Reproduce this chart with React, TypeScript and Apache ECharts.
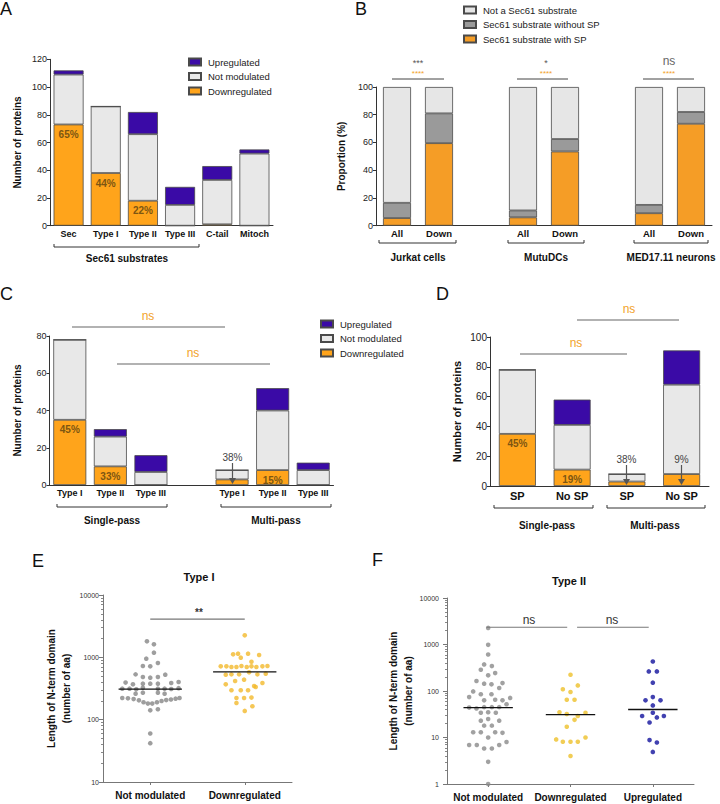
import React, { useEffect, useRef } from "react";
import * as echarts from "echarts";

const FONT = '"Liberation Sans", Arial, Helvetica, sans-serif';

// ---------- Panel A ----------
const catsA = ["Sec", "Type I", "Type II", "Type III", "C-tail", "Mitoch"];
const downA = [73, 38, 18, 0, 1, 0];
const notA = [36, 48, 48, 15, 32, 52];
const upA = [3, 0, 16, 13, 10, 3];
const pctA = ["65%", "44%", "22%", "", "", ""];
const ticksA = [0, 120, 20];

// ---------- Panel B ----------
const catsB = ["All", "Down", "", "All", "Down", "", "All", "Down"];
const withSpB = [5.5, 59.5, null, 6, 53.5, null, 9, 73.5];
const withoutSpB = [11, 21.5, null, 5, 9, null, 6, 8.5];
const notSecB = [83.5, 19, null, 89, 37.5, null, 85, 18];
const ticksB = [0, 100, 20];

// ---------- Panel C ----------
const catsC = ["Type I", "Type II", "Type III", "", "Type I", "Type II", "Type III"];
const downC = [35, 10, 0, null, 3, 8, 0];
const notC = [43, 16, 7, null, 5, 32, 8];
const upC = [0, 4, 9, null, 0, 12, 4];
const pctC = ["45%", "33%", "", "", "", "15%", ""];
const ticksC = [0, 80, 20];

// ---------- Panel D ----------
const catsD = ["SP", "No SP", "SP", "No SP"];
const downD = [35, 11, 3, 8];
const notD = [43, 30, 5, 60];
const upD = [0, 17, 0, 23];
const pctD = ["45%", "19%", "", ""];
const ticksD = [0, 100, 20];

// ---------- Panel E (Type I) ----------
const catsE = ["Not modulated", "Downregulated"];
const eNotOff = [-0.035, 0.039, 0.039, -0.042, -0.078, 0, 0.081, -0.155, -0.078, 0, 0.081, 0.159,
  -0.261, -0.183, -0.078, 0, 0.081, 0.222, 0.3,
  -0.296, -0.219, -0.148, -0.078, 0.081, 0.152, 0.222, 0.3,
  -0.155, -0.078, 0.081, 0.152,
  -0.296, -0.236, -0.176, -0.12, -0.071, -0.025, 0.021, 0.071, 0.12, 0.169, 0.219, 0.268, 0.31,
  0, 0.081, 0, 0];
const eNotVal = [1807, 1617, 1188, 952, 726, 718, 812, 533, 483, 472, 483, 527,
  393, 369, 378, 378, 378, 387, 402,
  314, 314, 307, 325, 314, 314, 310, 320,
  261, 271, 271, 261,
  223, 220, 214, 204, 190, 181, 181, 190, 199, 206, 211, 217, 223,
  141, 147, 60, 42];
const eDownOff = [0, -0.123, -0.071, 0.035, 0.152, -0.042, 0.071,
  -0.254, -0.194, -0.141, -0.088, -0.035, 0.021, 0.071, 0.123, 0.187, 0.24,
  -0.201, -0.141, -0.06, 0.046, 0.134, 0.222,
  -0.201, -0.102, -0.007, 0.099, 0.187,
  -0.141, -0.042, 0.035, 0.116,
  -0.088, -0.007, 0.071,
  -0.088, 0.081, 0];
const eDownVal = [2254, 1117, 1146, 1146, 1089, 988, 851,
  718, 718, 700, 700, 727, 700, 718, 700, 718, 727,
  527, 533, 533, 574, 533, 547,
  369, 417, 438, 347, 387,
  296, 296, 296, 334,
  223, 223, 226,
  185, 164, 138];
const medE = [310, 583];
const sigE = { from: 1, to: 2, y: 4100 };

// ---------- Panel F (Type II) ----------
const catsF = ["Not modulated", "Downregulated", "Upregulated"];
const fNotOff = [0, 0, 0, -0.049, 0.045, -0.089, 0.085, 0, -0.142, -0.049, 0.04, 0.174, 0.134, -0.182, -0.231, -0.089, 0.04, -0.049, 0.085, 0.174, 0.267, 0.223, -0.231, -0.142, -0.049, 0.045, 0.134, -0.089, 0, 0.093, 0, -0.089, 0.134, -0.049, 0.045, -0.182, -0.089, 0.085, 0.174, 0, -0.231, -0.138, -0.049, 0.045, 0.134, 0.223, 0, 0];
const fNotVal = [2275, 984, 611, 373, 343, 287, 243, 217, 164, 144, 139, 148, 116, 98, 74, 85, 85, 63, 65, 63, 71, 52, 44, 42, 45, 45, 45, 34, 35, 34, 25, 23, 23, 18, 18, 13, 13, 13, 12.6, 10, 6.9, 6.9, 5.8, 5.8, 6.9, 8, 3, 1];
const fDownOff = [0, 0.089, -0.093, 0, -0.045, 0.049, -0.134, -0.045, 0.089, 0.182, 0.049, -0.045, -0.174, -0.093, 0, 0.089, 0.182, 0];
const fDownVal = [224, 132, 109, 95, 65, 65, 35, 32, 29, 34, 24, 17, 9.1, 8.1, 8.1, 8.1, 10, 4];
const fUpOff = [0, -0.049, 0.049, 0, 0, -0.089, 0.093, 0, 0, -0.13, 0.049, 0.134, -0.04, -0.04, 0.049, 0];
const fUpVal = [432, 264, 264, 151, 74, 63, 63, 49, 34, 29, 27, 29, 21, 8.8, 7.8, 4.9];
const medF = [44, 31, 40];
const sigF = [{ from: 0.98, to: 1.96 }, { from: 2.08, to: 2.95 }];
const sigFY = 2350;

// ---------- colours ----------
const ORANGE = "#ffa41b";
const PURPLE = "#3a0aa6";
const LIGHT = "#e8e8e8";
const B_ORANGE = "#f59d26";
const B_GREY = "#9a9a9a";
const B_LIGHT = "#e6e6e6";
const SIG_ORANGE = "#f2a22a";
const PCT_COLOR = "#7d5612";

function buildOption() {
  const bar = (name: string, data: (number | null)[], color: string, idx: number, stack: string, bw: number, label?: any) => ({
    type: "bar",
    name,
    data: data.map((v) => (v == null ? "-" : v)),
    xAxisIndex: idx,
    yAxisIndex: idx,
    stack,
    barWidth: bw,
    itemStyle: { color, borderColor: "#4a4a4a", borderWidth: 0.8 },
    label: label || { show: false },
    emphasis: { disabled: true },
  });
  const pctLabel = (arr: string[]) => ({
    show: true,
    position: "insideTop",
    distance: 5,
    formatter: (p: any) => arr[p.dataIndex] || "",
    fontSize: 10,
    fontWeight: "bold",
    color: PCT_COLOR,
    fontFamily: FONT,
  });

  const catX = (grid: number, data: string[], fs = 9, margin = 4) => ({
    type: "category",
    gridIndex: grid,
    data,
    axisLine: { show: true, lineStyle: { color: "#333", width: 1 } },
    axisTick: { show: false },
    axisLabel: { interval: 0, fontSize: fs, fontWeight: "bold", color: "#111", margin, fontFamily: FONT },
  });
  const valY = (grid: number, t: number[], name: string, gap: number, fs = 9, nfs = 10) => ({
    type: "value",
    gridIndex: grid,
    min: t[0],
    max: t[1],
    interval: t[2],
    name,
    nameLocation: "middle",
    nameRotate: 90,
    nameGap: gap,
    nameTextStyle: { fontSize: nfs, fontWeight: "bold", color: "#111", fontFamily: FONT },
    axisLine: { show: true, lineStyle: { color: "#333" } },
    axisTick: { show: true, length: 3, lineStyle: { color: "#333" } },
    axisLabel: { fontSize: fs, color: "#222", margin: 3, fontFamily: FONT },
    splitLine: { show: false },
  });
  const logY = (grid: number, min: number, max: number, gap: number, margin: number) => ({
    type: "log",
    logBase: 10,
    gridIndex: grid,
    min,
    max,
    name: "Length of N-term domain\n(number of aa)",
    nameLocation: "middle",
    nameRotate: 90,
    nameGap: gap,
    nameTextStyle: { fontSize: 10, fontWeight: "bold", color: "#111", lineHeight: 15, fontFamily: FONT },
    axisLine: { show: true, lineStyle: { color: "#777" } },
    axisTick: { show: true, length: 4, lineStyle: { color: "#777" } },
    minorTick: { show: true, splitNumber: 9, length: 2, lineStyle: { color: "#888" } },
    axisLabel: { fontSize: 7, color: "#333", margin, fontFamily: FONT, formatter: (v: number) => String(Math.round(v)) },
    splitLine: { show: false },
    minorSplitLine: { show: false },
  });
  const scatCatX = (grid: number, data: string[]) => ({
    type: "category",
    gridIndex: grid,
    data,
    axisLine: { show: true, lineStyle: { color: "#777" } },
    axisTick: { show: true, alignWithLabel: true, length: 3, lineStyle: { color: "#777" } },
    axisLabel: { interval: 0, fontSize: 10, fontWeight: "bold", color: "#111", margin: 8, fontFamily: FONT },
  });
  const hiddenX = (grid: number, n: number) => ({ type: "value", gridIndex: grid, min: 0.5, max: n + 0.5, show: false });

  const dots = (name: string, offs: number[], vals: number[], cat: number, color: string, xi: number, yi: number) => ({
    type: "scatter",
    name,
    xAxisIndex: xi,
    yAxisIndex: yi,
    symbol: "circle",
    symbolSize: 4.6,
    itemStyle: { color },
    data: vals.map((v, i) => [cat + offs[i], v]),
    z: 2,
    emphasis: { disabled: true },
  });
  const seg = (x1: number, x2: number, y: number, xi: number, yi: number, color: string, w: number, z = 3) => ({
    type: "line",
    xAxisIndex: xi,
    yAxisIndex: yi,
    data: [[x1, y], [x2, y]],
    symbol: "none",
    lineStyle: { color, width: w },
    z,
    silent: true,
  });

  const series: any[] = [
    // A
    bar("Downregulated", downA, ORANGE, 0, "A", 30, pctLabel(pctA)),
    bar("Not modulated", notA, LIGHT, 0, "A", 30),
    bar("Upregulated", upA, PURPLE, 0, "A", 30),
    // B
    bar("Sec61 substrate with SP", withSpB, B_ORANGE, 1, "B", 28),
    bar("Sec61 substrate without SP", withoutSpB, B_GREY, 1, "B", 28),
    bar("Not a Sec61 substrate", notSecB, B_LIGHT, 1, "B", 28),
    // C
    bar("Downregulated", downC, ORANGE, 2, "C", 33, pctLabel(pctC)),
    bar("Not modulated", notC, LIGHT, 2, "C", 33),
    bar("Upregulated", upC, PURPLE, 2, "C", 33),
    // D
    bar("Downregulated", downD, ORANGE, 3, "D", 37, pctLabel(pctD)),
    bar("Not modulated", notD, LIGHT, 3, "D", 37),
    bar("Upregulated", upD, PURPLE, 3, "D", 37),
    // E
    dots("E not", eNotOff, eNotVal, 1, "#868686", 5, 4),
    dots("E down", eDownOff, eDownVal, 2, "#f3b92c", 5, 4),
    ...medE.map((m, i) => seg(i + 1 - 0.335, i + 1 + 0.335, m, 5, 4, "#111", 1.3)),
    seg(sigE.from, sigE.to, sigE.y, 5, 4, "#777", 1.2),
    // F
    dots("F not", fNotOff, fNotVal, 1, "#8a8a8a", 7, 5),
    dots("F down", fDownOff, fDownVal, 2, "#eec12a", 7, 5),
    dots("F up", fUpOff, fUpVal, 3, "#12129c", 7, 5),
    ...medF.map((m, i) => seg(i + 1 - 0.3, i + 1 + 0.3, m, 7, 5, "#111", 1.3)),
    ...sigF.map((s) => seg(s.from, s.to, sigFY, 7, 5, "#777", 1.2)),
  ];

  const txt = (x: number, y: number, text: string, size: number, o: any = {}) => ({
    type: "text",
    x,
    y,
    z: 100,
    silent: true,
    style: {
      text,
      fontSize: size,
      fontFamily: FONT,
      fontWeight: o.bold ? "bold" : "normal",
      fill: o.color || "#111",
      align: o.align || "center",
      verticalAlign: o.va || "middle",
    },
  });
  const bracket = (x1: number, x2: number, y: number) => ({
    type: "polyline",
    z: 100,
    silent: true,
    shape: { points: [[x1, y - 3], [x1, y], [x2, y], [x2, y - 3]] },
    style: { stroke: "#333", lineWidth: 1, fill: null },
  });
  const hline = (x1: number, x2: number, y: number, color = "#555", w = 1.2) => ({
    type: "line",
    z: 100,
    silent: true,
    shape: { x1, y1: y, x2, y2: y },
    style: { stroke: color, lineWidth: w },
  });
  const arrow = (x: number, y1: number, tip: number) => [
    { type: "line", z: 100, silent: true, shape: { x1: x, y1, x2: x, y2: tip - 5 }, style: { stroke: "#555", lineWidth: 1.2 } },
    { type: "polygon", z: 100, silent: true, shape: { points: [[x - 3.5, tip - 6], [x + 3.5, tip - 6], [x, tip]] }, style: { fill: "#555" } },
  ];
  const letter = (x: number, y: number, t: string) => txt(x, y, t, 18, { align: "left", va: "top", color: "#111" });

  const graphic: any[] = [
    letter(0, 0, "A"),
    letter(355, 0, "B"),
    letter(0, 285, "C"),
    letter(436, 285, "D"),
    letter(32, 552, "E"),
    letter(372, 551, "F"),
    // A bracket
    bracket(54, 199, 247),
    txt(127, 258, "Sec61 substrates", 10, { bold: true }),
    // B brackets and significance
    bracket(379, 456, 243),
    bracket(508, 584, 243),
    bracket(634, 708, 243),
    txt(418, 257, "Jurkat cells", 10, { bold: true }),
    txt(546, 257, "MutuDCs", 10, { bold: true }),
    txt(671, 257, "MED17.11 neurons", 10, { bold: true }),
    txt(418, 63, "***", 9, { color: "#555" }),
    txt(546, 63, "*", 9, { color: "#555" }),
    txt(669, 61, "ns", 12, { color: "#666" }),
    txt(418, 73, "****", 8, { color: SIG_ORANGE }),
    txt(546, 73, "****", 8, { color: SIG_ORANGE }),
    txt(669, 73, "****", 8, { color: SIG_ORANGE }),
    hline(392, 444, 79, "#444", 1),
    hline(517, 568, 79, "#444", 1),
    hline(643, 694, 79, "#444", 1),
    // C
    bracket(57, 167, 507),
    bracket(221, 331, 507),
    txt(112, 520, "Single-pass", 10, { bold: true }),
    txt(276, 520, "Multi-pass", 10, { bold: true }),
    hline(72, 225, 327, "#666"),
    hline(117, 270, 364, "#666"),
    txt(148, 316, "ns", 12, { color: SIG_ORANGE }),
    txt(193, 353, "ns", 12, { color: SIG_ORANGE }),
    txt(232.5, 457, "38%", 10, { color: "#444" }),
    ...arrow(232.5, 463, 484),
    // D
    bracket(494, 593, 508),
    bracket(607, 705, 508),
    txt(547, 525, "Single-pass", 10, { bold: true }),
    txt(655, 525, "Multi-pass", 10, { bold: true }),
    hline(577, 679, 320, "#666"),
    hline(520, 627, 354, "#666"),
    txt(629, 309, "ns", 12, { color: SIG_ORANGE }),
    txt(576, 343, "ns", 12, { color: SIG_ORANGE }),
    txt(626.5, 459, "38%", 10, { color: "#444" }),
    ...arrow(626.5, 465, 485),
    txt(681.5, 459, "9%", 10, { color: "#444" }),
    ...arrow(681.5, 465, 485),
    // E
    txt(199, 577, "Type I", 11, { bold: true }),
    txt(199, 612, "**", 10, { color: "#333", bold: true }),
    // F
    txt(569, 581, "Type II", 11, { bold: true }),
    txt(529, 620, "ns", 12, { color: "#333" }),
    txt(612, 620, "ns", 12, { color: "#333" }),
  ];

  const legendBase = {
    orient: "vertical",
    itemWidth: 12,
    itemHeight: 7,
    itemGap: 4.5,
    icon: "rect",
    selectedMode: false,
    textStyle: { fontSize: 9.5, color: "#222", fontFamily: FONT, padding: [0, 0, 0, 2] },
  };

  return {
    animation: false,
    backgroundColor: "#ffffff",
    textStyle: { fontFamily: FONT },
    legend: [
      { ...legendBase, left: 183, top: 52, data: ["Upregulated", "Not modulated", "Downregulated"] },
      { ...legendBase, left: 458, top: 0, data: ["Not a Sec61 substrate", "Sec61 substrate without SP", "Sec61 substrate with SP"] },
      { ...legendBase, left: 315, top: 314, data: ["Upregulated", "Not modulated", "Downregulated"] },
    ],
    grid: [
      { left: 50, top: 59.3, width: 223, height: 166.4 },
      { left: 376, top: 87, width: 336, height: 138.7 },
      { left: 49.5, top: 336, width: 284, height: 149 },
      { left: 490, top: 337, width: 219, height: 149 },
      { left: 103, top: 595, width: 189, height: 187 },
      { left: 447, top: 598, width: 247, height: 186 },
    ],
    xAxis: [
      catX(0, catsA, 9, 4),
      catX(1, catsB, 9.5, 3),
      catX(2, catsC, 9, 3),
      catX(3, catsD, 11, 4),
      scatCatX(4, catsE),
      hiddenX(4, 2),
      scatCatX(5, catsF),
      hiddenX(5, 3),
    ],
    yAxis: [
      valY(0, ticksA, "Number of proteins", 28),
      valY(1, ticksB, "Proportion (%)", 30),
      valY(2, ticksC, "Number of proteins", 27),
      valY(3, ticksD, "Number of proteins", 28, 10, 11),
      logY(4, 10, 10000, 29, 4),
      logY(5, 1, 10000, 26, 8),
    ],
    series,
    graphic,
  };
}

export default function App() {
  const ref = useRef<HTMLDivElement>(null);
  useEffect(() => {
    document.body.style.margin = "0";
    const chart = echarts.init(ref.current as HTMLDivElement, null, { renderer: "svg" });
    chart.setOption(buildOption() as any);
    return () => chart.dispose();
  }, []);
  return <div ref={ref} style={{ width: 720, height: 804 }} />;
}
